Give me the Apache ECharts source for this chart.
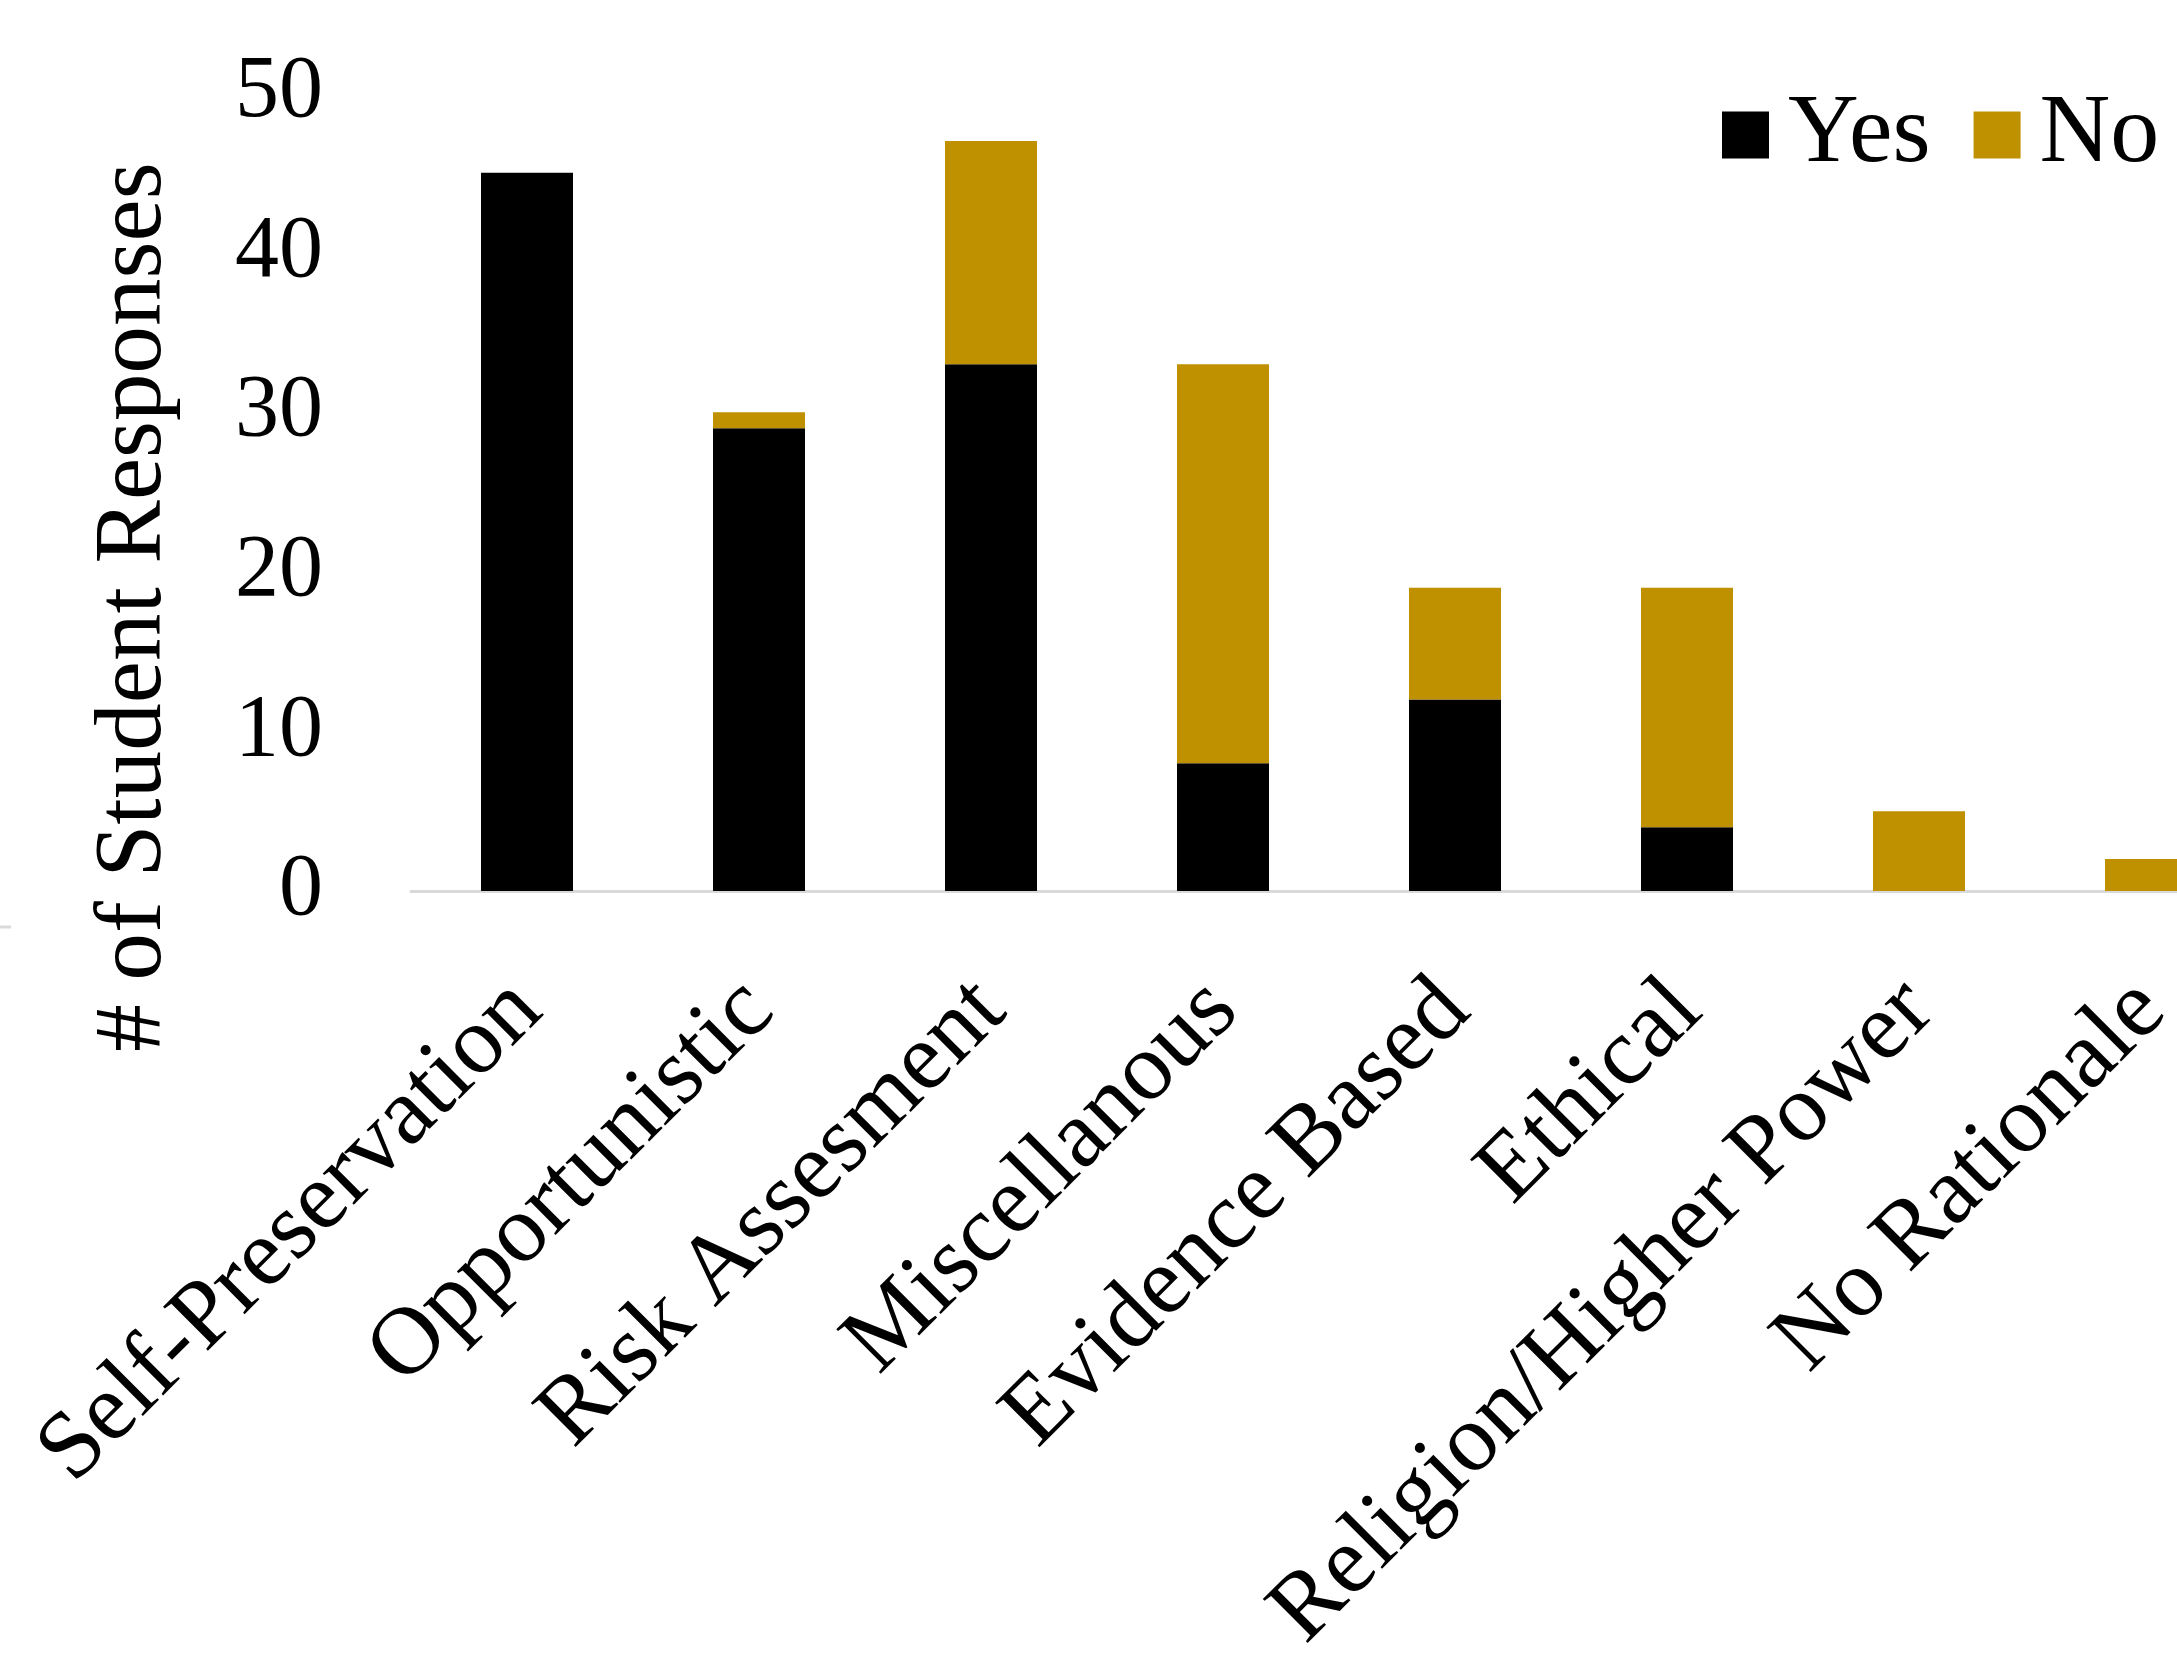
<!DOCTYPE html>
<html>
<head>
<meta charset="utf-8">
<script src="https://cdn.jsdelivr.net/npm/echarts@6/dist/echarts.min.js"></script>
<style>
html,body{margin:0;padding:0;background:#fff;}
#chart{width:2177px;height:1673px;}
</style>
</head>
<body>
<div id="chart"></div>
<script>
const categories = ["Self-Preservation","Opportunistic","Risk Assesment","Miscellanous","Evidence Based","Ethical","Religion/Higher Power","No Rationale"];
const yesValues = [45, 29, 33, 8, 12, 4, 0, 0];
const noValues = [0, 1, 14, 25, 7, 15, 5, 2];
const yTicks = [0, 10, 20, 30, 40, 50];
const yAxisTitle = "# of Student Responses";
const seriesNames = ["Yes", "No"];

const FONT = '"Liberation Serif", "Times New Roman", serif';
const chart = echarts.init(document.getElementById('chart'), null, {renderer: 'canvas'});
chart.setOption({
  animation: false,
  backgroundColor: '#ffffff',
  grid: {left: 411, top: 93, width: 1856, height: 798, containLabel: false, outerBoundsMode: 'none'},
  legend: {
    data: seriesNames,
    left: 1717, top: 81,
    itemWidth: 47, itemHeight: 47, itemGap: 43,
    icon: 'rect',
    textStyle: {fontFamily: FONT, fontSize: 98, color: '#000', padding: [0,0,0,14]},
    selectedMode: false
  },
  xAxis: {
    type: 'category',
    data: categories,
    axisLine: {show: true, lineStyle: {color: '#d9d9d9', width: 3}},
    axisTick: {show: false},
    axisLabel: {rotate: 45, margin: 105, interval: 0, fontFamily: FONT, fontSize: 96, color: '#000'}
  },
  yAxis: {
    type: 'value',
    min: 0, max: 50, interval: 10,
    axisLine: {show: false},
    axisTick: {show: false},
    splitLine: {show: false},
    axisLabel: {margin: 88, fontFamily: FONT, fontSize: 88, color: '#000', padding: [26,0,0,0],
      formatter: function(v){ return yTicks.indexOf(v) >= 0 ? String(v) : ''; }}
  },
  graphic: [{
    type: 'text',
    x: 135, y: 607,
    rotation: Math.PI / 2,
    style: {text: yAxisTitle, font: '95px ' + FONT, fill: '#000', textAlign: 'center', textVerticalAlign: 'middle'}
  }, {
    type: 'line',
    shape: {x1: 0, y1: 927, x2: 11, y2: 927},
    style: {stroke: '#d9d9d9', lineWidth: 3}
  }],
  series: [
    {name: seriesNames[0], type: 'bar', stack: 'total', data: yesValues, barWidth: 92, itemStyle: {color: '#000000'}},
    {name: seriesNames[1], type: 'bar', stack: 'total', data: noValues, barWidth: 92, itemStyle: {color: '#BF9000'}}
  ]
});
</script>
</body>
</html>
